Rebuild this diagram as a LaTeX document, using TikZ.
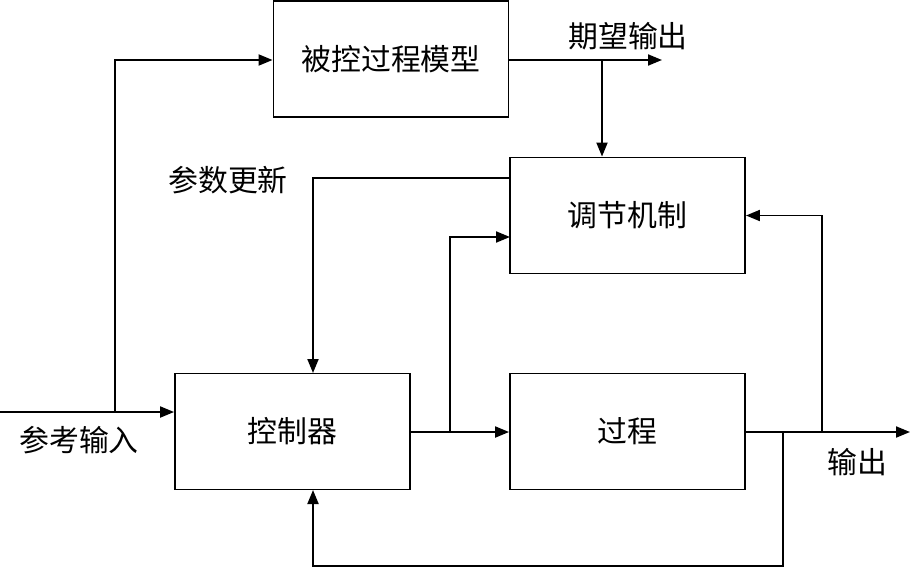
\documentclass[tikz,border=0pt]{standalone}
\usepackage{fontspec}
\newfontfamily\cjk{Noto Sans CJK SC}
\usepackage{tikz}
\usetikzlibrary{arrows.meta,positioning,calc}

\begin{document}
\begin{tikzpicture}[x=0.02cm,y=-0.02cm,
  block/.style={draw,line width=1.1pt,minimum width=4.7cm,minimum height=2.32cm,inner sep=0pt,font=\cjk\fontsize{17}{20}\selectfont},
  lbl/.style={inner sep=0pt,font=\cjk\fontsize{17}{20}\selectfont},
  arrow/.style={-{Triangle[length=0.28cm,width=0.22cm]},line width=1.1pt},
  wire/.style={line width=1.1pt}
]
\useasboundingbox (0,0) rectangle (911,568);
% blocks
\node[block] (model) at (391,59) {被控过程模型};
\node[block] (adjust) at (627.5,215.5) {调节机制};
\node[block] (ctrl) at (292.5,431.5) {控制器};
\node[block] (proc) at (627.5,431.5) {过程};
% labels
\node[lbl] (lin) at (79,440) {参考输入};
\node[lbl] (lexp) at (628,36) {期望输出};
\node[lbl] (lupd) at (228,180) {参数更新};
\node[lbl] (lout) at (857,462) {输出};
% turning points
\coordinate (in) at (0,412);
\coordinate (b1) at (115,412);
\coordinate (expo) at (662,60);
\coordinate (b2) at (602,60);
\coordinate (upd) at (510,178);
\coordinate (upc) at (313,373);
\coordinate (b3) at (450,432);
\coordinate (adin) at (510,237);
\coordinate (out) at (910,432);
\coordinate (b4) at (822,432);
\coordinate (b5) at (783,432);
\coordinate (fb) at (783,566);
\coordinate (fbc) at (313,490);
% connectors
\draw[arrow] (in) -- (in -| ctrl.west);
\draw[arrow] (b1) |- (b1 |- expo) -- (model.west |- expo);
\draw[arrow] (model.east |- expo) -- (expo);
\draw[arrow] (b2) -- (b2 |- adjust.north);
\draw[arrow] (upd) -| (upc);
\draw[arrow] (ctrl.east |- b3) -- (proc.west |- b3);
\draw[arrow] (b3) |- (adin);
\draw[arrow] (proc.east |- out) -- (out);
\draw[arrow] (b4) |- (adjust.east);
\draw[arrow] (b5) -- (fb) -| (fbc);
\end{tikzpicture}
\end{document}
